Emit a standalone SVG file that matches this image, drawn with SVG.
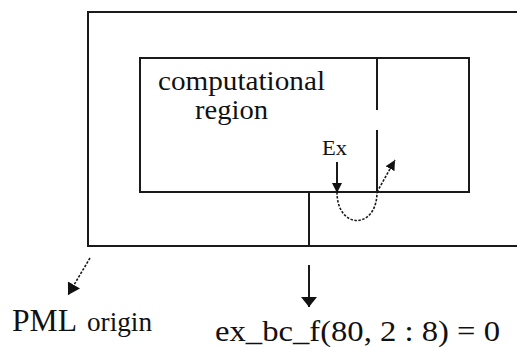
<svg xmlns="http://www.w3.org/2000/svg" width="517" height="347" viewBox="0 0 517 347">
<style>
.ln{fill:none;stroke:#1a1a1a;stroke-width:2}
.ds{fill:none;stroke:#1a1a1a;stroke-width:1.6;stroke-dasharray:2.5 1.5}
.t{font-family:"Liberation Serif","Times New Roman",serif;fill:#111}
</style>
<defs>
<marker id="ah" viewBox="0 0 10 10" refX="10" refY="5" markerWidth="10" markerHeight="10" markerUnits="userSpaceOnUse" orient="auto"><path d="M0,0L10,5L0,10z" fill="#111"/></marker>
<marker id="ahw" viewBox="0 0 10 16" refX="10" refY="8" markerWidth="10" markerHeight="16" markerUnits="userSpaceOnUse" orient="auto"><path d="M0,0L10,8L0,16z" fill="#111"/></marker>
<marker id="ahp" viewBox="0 0 10 12" refX="10" refY="6" markerWidth="12" markerHeight="14" markerUnits="userSpaceOnUse" orient="auto"><path d="M0,0L10,6L0,12z" fill="#111"/></marker>
</defs>
<rect width="517" height="347" fill="#fff"/>
<g id="pml-region">
<rect class="ln" x="88" y="12" width="440" height="234"/>
</g>
<g id="computational-region">
<rect class="ln" x="140" y="58" width="329" height="134"/>
<text class="t" x="158" y="90" font-size="27" textLength="167" lengthAdjust="spacingAndGlyphs">computational</text>
<text class="t" x="195" y="119" font-size="27" textLength="73" lengthAdjust="spacingAndGlyphs">region</text>
</g>
<g id="connectors">
<line class="ln" x1="377" y1="58" x2="377" y2="110"/>
<line class="ln" x1="377" y1="130" x2="377" y2="192"/>
<line class="ln" x1="309" y1="192" x2="309" y2="246"/>
<line class="ln" x1="337" y1="162" x2="337" y2="193" marker-end="url(#ah)"/>
<path class="ds" d="M337,192 C337,230 377,230 377,192"/>
<line class="ds" x1="377" y1="192" x2="395" y2="160" marker-end="url(#ah)"/>
<line class="ds" x1="90" y1="258" x2="68" y2="295" marker-end="url(#ahp)"/>
<line class="ln" x1="309" y1="265" x2="309" y2="307" marker-end="url(#ahw)"/>
</g>
<g id="ex-label">
<text class="t" x="322" y="155" font-size="20" textLength="25" lengthAdjust="spacingAndGlyphs">Ex</text>
</g>
<g id="pml-origin">
<text class="t" x="12" y="331" font-size="31" textLength="65" lengthAdjust="spacingAndGlyphs">PML</text>
<text class="t" x="87" y="331" font-size="28" textLength="65" lengthAdjust="spacingAndGlyphs">origin</text>
</g>
<g id="bc-label">
<text class="t" x="215" y="341" font-size="30" textLength="285" lengthAdjust="spacingAndGlyphs">ex_bc_f(80, 2 : 8) = 0</text>
</g>
</svg>
